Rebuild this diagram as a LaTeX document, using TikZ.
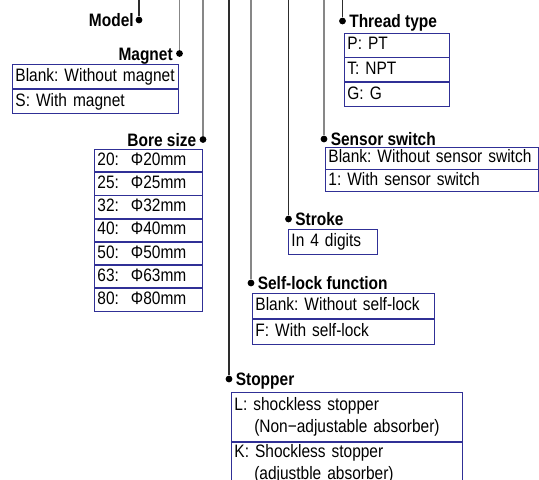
\documentclass[tikz,border=0pt]{standalone}
\usepackage{fontspec}
\setmainfont[FakeStretch=0.86]{Liberation Sans}
\usetikzlibrary{positioning}

\definecolor{boxblue}{RGB}{48,48,150}
\definecolor{leadgray}{RGB}{135,135,135}
\definecolor{leaddark}{RGB}{45,45,45}

\tikzset{
  pin/.style={circle,fill=black,inner sep=0pt,minimum size=6.8pt},
  tag/.style={font=\fontsize{18}{22}\selectfont\bfseries,inner sep=0pt,text height=13pt,text depth=0pt},
  cell/.style={draw=boxblue,line width=0.9pt,text width=#1,align=left,inner xsep=3pt,inner ysep=0pt},
  row/.style={cell=#1,text height=13pt,text depth=3.5pt},
  lead/.style={line width=1.2pt,leadgray},
  leadk/.style={line width=1.1pt,leaddark}
}

\begin{document}
\frenchspacing
\begin{tikzpicture}[x=1pt,y=-1pt,font=\fontsize{18}{22}\selectfont]
\useasboundingbox (0,0) rectangle (539,480);

% pins and their titles
\node[pin] (mdl) at (139,20) {};
\node[tag,left=1.5pt of mdl] (mdl-t) {Model};
\node[pin] (mag) at (179.5,53.5) {};
\node[tag,left=3pt of mag] (mag-t) {Magnet};
\node[pin] (bore) at (203,139.5) {};
\node[tag,left=3pt of bore] (bore-t) {Bore size};
\node[pin] (stp) at (229,379) {};
\node[tag,right=3pt of stp] (stp-t) {Stopper};
\node[pin] (lock) at (251,283) {};
\node[tag,right=3pt of lock] (lock-t) {Self-lock function};
\node[pin] (strk) at (288.5,219) {};
\node[tag,right=3pt of strk] (strk-t) {Stroke};
\node[pin] (sens) at (324,139) {};
\node[tag,right=3pt of sens] (sens-t) {Sensor switch};
\node[pin] (thr) at (342.5,21) {};
\node[tag,right=3pt of thr] (thr-t) {Thread type};

% lead lines from the top edge
\coordinate (mdl-top) at (139,0);
\coordinate (mag-top) at (179.5,0);
\coordinate (bore-top) at (203,0);
\coordinate (stp-top) at (229,0);
\coordinate (lock-top) at (251,0);
\coordinate (strk-top) at (288.5,0);
\coordinate (sens-top) at (324,0);
\coordinate (thr-top) at (342.5,0);
\draw[leadk] (mdl-top) -- (mdl);
\draw[lead] (mag-top) -- (mag);
\draw[lead] (bore-top) -- (bore);
\draw[leadk] (stp-top) -- (stp);
\draw[lead] (lock-top) -- (lock);
\draw[leadk] (strk-top) -- (strk);
\draw[lead] (sens-top) -- (sens);
\draw[leadk] (thr-top) -- (thr);

% magnet
\node[row=160pt,minimum height=24pt,anchor=north west] (mag1) at (12,64) {Blank: Without magnet};
\node[row=160pt,minimum height=24pt,below=0pt of mag1] (mag2) {S: With magnet};

% bore size
\node[row=102pt,minimum height=22.3pt,anchor=north west] (bore1) at (94,149) {20:\ \ Φ20mm};
\node[row=102pt,minimum height=22.3pt,below=0pt of bore1] (bore2) {25:\ \ Φ25mm};
\node[row=102pt,minimum height=22.3pt,below=0pt of bore2] (bore3) {32:\ \ Φ32mm};
\node[row=102pt,minimum height=22.3pt,below=0pt of bore3] (bore4) {40:\ \ Φ40mm};
\node[row=102pt,minimum height=22.3pt,below=0pt of bore4] (bore5) {50:\ \ Φ50mm};
\node[row=102pt,minimum height=22.3pt,below=0pt of bore5] (bore6) {63:\ \ Φ63mm};
\node[row=102pt,minimum height=22.3pt,below=0pt of bore6] (bore7) {80:\ \ Φ80mm};

% thread type
\node[row=99pt,minimum height=23.8pt,anchor=north west] (thr1) at (344,32.7) {P: PT};
\node[row=99pt,minimum height=23.8pt,below=0pt of thr1] (thr2) {T: NPT};
\node[row=99pt,minimum height=23.8pt,below=0pt of thr2] (thr3) {G: G};

% sensor switch
\node[row=207pt,minimum height=21.5pt,anchor=north west] (sens1) at (325,147) {Blank: Without sensor switch};
\node[row=207pt,minimum height=21.5pt,below=0pt of sens1] (sens2) {1: With sensor switch};

% stroke
\node[row=83pt,minimum height=25pt,anchor=north west] (strk1) at (288,229) {In 4 digits};

% self-lock
\node[row=176pt,minimum height=25pt,anchor=north west] (lock1) at (252,293) {Blank: Without self-lock};
\node[row=176pt,minimum height=25pt,below=0pt of lock1] (lock2) {F: With self-lock};

% stopper
\node[cell=225pt,minimum height=49pt,anchor=north west] (stp1) at (231,392)
  {L: shockless stopper\\\hspace*{1.1em}(Non−adjustable absorber)};
\node[cell=225pt,inner ysep=2.5pt,below=0pt of stp1] (stp2)
  {K: Shockless stopper\\\hspace*{1.1em}(adjustble absorber)};
\end{tikzpicture}
\end{document}
